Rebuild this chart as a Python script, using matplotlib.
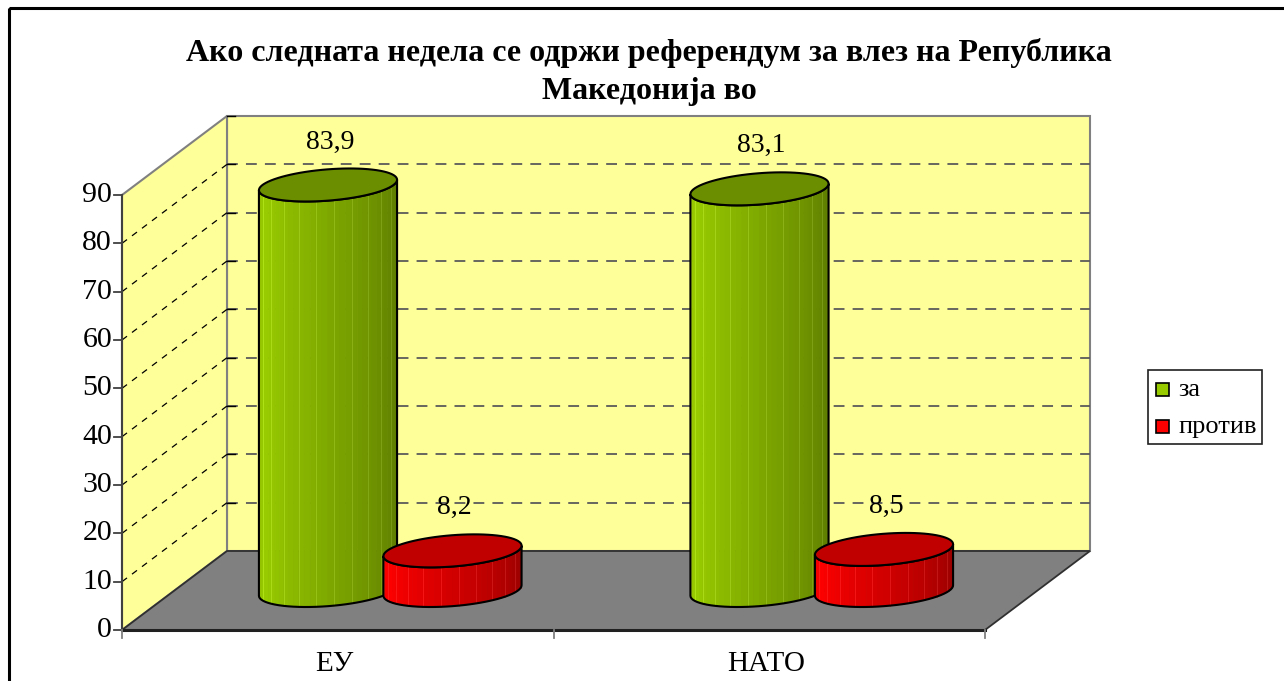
import numpy as np
import matplotlib
matplotlib.use("Agg")
import matplotlib.pyplot as plt
from matplotlib.patches import Polygon, Rectangle
from matplotlib.colors import to_rgb

# ---------------- data ----------------
categories = ["ЕУ", "НАТО"]
series_names = ["за", "против"]
za_values = [83.9, 83.1]
protiv_values = [8.2, 8.5]
za_labels = ["83,9", "83,1"]
protiv_labels = ["8,2", "8,5"]
y_ticks = [0, 10, 20, 30, 40, 50, 60, 70, 80, 90]
title_text = "Ако следната недела се одржи референдум за влез на Република\nМакедонија во"

series_values = [za_values, protiv_values]
series_labels = [za_labels, protiv_labels]
# (side light, side dark, top, legend)
series_colors = [
    ("#9ACD00", "#5A7800", "#6B8E00", "#99CC00"),
    ("#FF0000", "#960000", "#C00000", "#FF0000"),
]

# ---------------- layout ----------------
W_PX, H_PX = 1284, 681
FX0, FX1 = 122, 985          # front axis left/right (px)
FY0, FY_TOP = 630, 195       # front y of 0 and of YMAX
YMAX = 90
DX, DY = 105, -79            # depth offset (px)
SERIF = ["Liberation Serif", "DejaVu Serif"]

fig = plt.figure(figsize=(W_PX / 100, H_PX / 100), dpi=100)
ax = fig.add_axes([0, 0, 1, 1])
ax.set_xlim(0, W_PX)
ax.set_ylim(H_PX, 0)
ax.axis("off")


def P(u, v, d):
    """u: fraction along category axis, v: value, d: depth fraction."""
    x = FX0 + np.asarray(u) * (FX1 - FX0) + np.asarray(d) * DX
    y = FY0 - np.asarray(v) / YMAX * (FY0 - FY_TOP) + np.asarray(d) * DY
    return x, y


def poly(pts, **kw):
    ax.add_patch(Polygon(np.column_stack(pts), closed=True, **kw))


# outer frame
ax.add_patch(Rectangle((9, 8), W_PX + 20, H_PX + 20, fill=False,
                       edgecolor="black", lw=2.2, zorder=50))

wall_col = "#FFFF99"
edge_gray = "#808080"

# back wall
bx, by = P([0, 1, 1, 0], [0, 0, YMAX, YMAX], [1, 1, 1, 1])
poly((bx, by), facecolor=wall_col, edgecolor=edge_gray, lw=1.5, zorder=1)
# side wall
sx, sy = P([0, 0, 0, 0], [0, 0, YMAX, YMAX], [0, 1, 1, 0])
poly((sx, sy), facecolor=wall_col, edgecolor=edge_gray, lw=1.5, zorder=1)
# floor
fx, fy = P([0, 1, 1, 0], [0, 0, 0, 0], [0, 0, 1, 1])
poly((fx, fy), facecolor="#808080", edgecolor="#303030", lw=1.3, zorder=2)

# gridlines
for v in y_ticks[1:-1]:
    x, y = P([0, 1], [v, v], [1, 1])
    ax.plot(x, y, color="#5a5a5a", lw=1.3, dashes=(6, 4.5), zorder=3)
    x, y = P([0, 0], [v, v], [0, 1])
    ax.plot(x, y, color="black", lw=0.9, dashes=(5, 5), zorder=3)
for v in y_ticks[1:]:
    x, y = P([0, 0], [v, v], [1, 1])
    ax.plot([x[0], x[0] + 8], [y[0], y[0]], color="black", lw=1.0, zorder=3)

# axes lines
x, y = P([0, 0], [0, YMAX], [0, 0])
ax.plot(x, y, color="#404040", lw=1.5, zorder=4)
x, y = P([0, 1], [0, 0], [0, 0])
ax.plot(x, y, color="#202020", lw=2.2, zorder=4)
for v in y_ticks:
    x, y = P(0, v, 0)
    ax.plot([x - 8, x], [y, y], color="#404040", lw=1.3, zorder=4)
    ax.text(x - 10, y, str(v), ha="right", va="center", fontsize=21.5,
            family=SERIF, zorder=5)
n = len(categories)
for i in range(n + 1):
    x, y = P(i / n, 0, 0)
    ax.plot([x, x], [y, y + 8], color="#808080", lw=1.3, zorder=4)
for i, c in enumerate(categories):
    x, y = P((i + 0.5) / n, 0, 0)
    ax.text(x - 3, y + 34, c, ha="center", va="center", fontsize=21,
            family=SERIF, zorder=5)

# cylinders
RU = 65.5 / (FX1 - FX0)      # radius along category axis (fraction)
RD = 0.209                   # radius in depth (fraction)
OFFS = [-62.25 / (FX1 - FX0), 62.25 / (FX1 - FX0)]
T_R = np.arctan(RD * DX / (RU * (FX1 - FX0)))
NSTRIP = 36
z = 10
for i in range(n):
    for s, vals in enumerate(series_values):
        v = vals[i]
        uc = (i + 0.5) / n + OFFS[s]
        light, dark, top, _ = series_colors[s]
        cl, cd = np.array(to_rgb(light)), np.array(to_rgb(dark))
        ts = np.linspace(T_R + np.pi, T_R + 2 * np.pi, NSTRIP + 1)
        u = uc + RU * np.cos(ts)
        d = 0.5 + RD * np.sin(ts)
        xb, yb = P(u, 0, d)
        xt, yt = P(u, v, d)
        for k in range(NSTRIP):
            f = k / (NSTRIP - 1)
            if f < 0.12:
                col = cl * (0.9 + 0.1 * f / 0.12)
            else:
                col = cl + (cd - cl) * (f - 0.12) / 0.88
            col = np.clip(col, 0, 1)
            poly(([xb[k], xb[k + 1], xt[k + 1], xt[k]],
                  [yb[k], yb[k + 1], yt[k + 1], yt[k]]),
                 facecolor=col, edgecolor=col, lw=0.6, zorder=z)
            if k % 3 == 1:
                ax.plot([xb[k], xt[k]], [yb[k], yt[k]],
                        color=np.clip(col + 0.12, 0, 1), lw=0.5, zorder=z + 0.1)
        # silhouette outline
        ox = np.concatenate([xt, xb[::-1]])
        oy = np.concatenate([yt, yb[::-1]])
        poly((ox, oy), facecolor="none", edgecolor="black", lw=1.5, zorder=z + 0.2)
        # top ellipse
        tt = np.linspace(0, 2 * np.pi, 80)
        ex, ey = P(uc + RU * np.cos(tt), v, 0.5 + RD * np.sin(tt))
        poly((ex, ey), facecolor=top, edgecolor="black", lw=1.5, zorder=z + 0.3)
        # value label
        lx, ly = P(uc, v, 0.5)
        ax.text(lx + 2, ly - 43, series_labels[s][i], ha="center", va="center",
                fontsize=20, family=SERIF, zorder=40)
        z += 1

# title
ax.text(649, 72, title_text, ha="center", va="center", fontsize=23,
        fontweight="bold", family=SERIF, linespacing=1.45, zorder=40)

# legend
ax.add_patch(Rectangle((1148, 370), 114, 74, facecolor="white",
                       edgecolor="#202020", lw=1.2, zorder=30))
for s, name in enumerate(series_names):
    yc = 390 + s * 37
    ax.add_patch(Rectangle((1156, yc - 7), 13, 13, facecolor=series_colors[s][3],
                           edgecolor="black", lw=1.2, zorder=31))
    ax.text(1178, yc, name, ha="left", va="center", fontsize=19,
            family=SERIF, zorder=31)

fig.savefig("out.png", dpi=100)
